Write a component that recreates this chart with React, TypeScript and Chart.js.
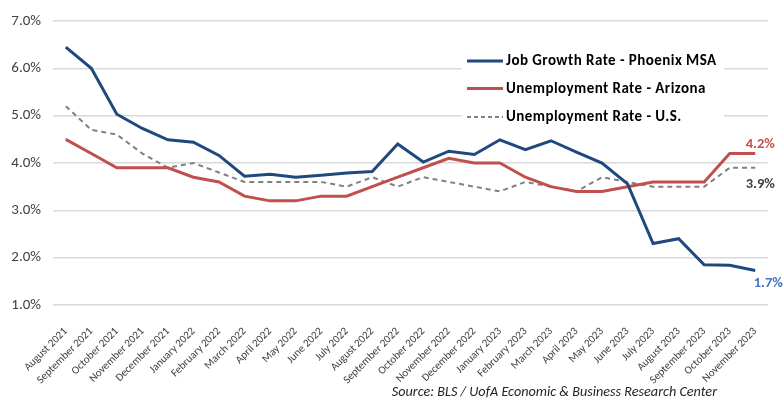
import { useEffect, useRef } from 'react';
import { Chart, registerables } from 'chart.js';

Chart.register(...registerables);

const categories = [
  'August 2021', 'September 2021', 'October 2021', 'November 2021', 'December 2021',
  'January 2022', 'February 2022', 'March 2022', 'April 2022', 'May 2022', 'June 2022',
  'July 2022', 'August 2022', 'September 2022', 'October 2022', 'November 2022',
  'December 2022', 'January 2023', 'February 2023', 'March 2023', 'April 2023', 'May 2023',
  'June 2023', 'July 2023', 'August 2023', 'September 2023', 'October 2023', 'November 2023',
];

const jobGrowthPhoenix = [
  6.45, 6.0, 5.03, 4.73, 4.49, 4.44, 4.16, 3.72, 3.76, 3.7,
  3.74, 3.79, 3.82, 4.4, 4.02, 4.25, 4.18, 4.49, 4.28, 4.47,
  4.23, 4.0, 3.56, 2.3, 2.4, 1.85, 1.84, 1.73,
];

const unemploymentArizona = [
  4.5, 4.2, 3.9, 3.9, 3.9, 3.7, 3.6, 3.3, 3.2, 3.2,
  3.3, 3.3, 3.5, 3.7, 3.9, 4.1, 4.0, 4.0, 3.7, 3.5,
  3.4, 3.4, 3.5, 3.6, 3.6, 3.6, 4.2, 4.2,
];

const unemploymentUS = [
  5.2, 4.7, 4.6, 4.2, 3.9, 4.0, 3.8, 3.6, 3.6, 3.6,
  3.6, 3.5, 3.7, 3.5, 3.7, 3.6, 3.5, 3.4, 3.6, 3.5,
  3.4, 3.7, 3.6, 3.5, 3.5, 3.5, 3.9, 3.9,
];

const seriesLabels = [
  'Job Growth Rate - Phoenix MSA',
  'Unemployment Rate - Arizona',
  'Unemployment Rate - U.S.',
];

const sourceText = 'Source: BLS / UofA Economic & Business Research Center';

const FONT = 'Calibri, Carlito, Lato, "Noto Sans", sans-serif';
const BLUE = '#1F497D';
const RED = '#C0504D';
const GRAY = '#808080';

const overlayPlugin = {
  id: 'overlay',
  afterDatasetsDraw(chart: any) {
    const ctx = chart.ctx as any;
    ctx.save();
    // Legend box
    const lx = 465;
    const ly = [61, 88.5, 117];
    ctx.fillStyle = '#ffffff';
    ctx.fillRect(lx - 3, 48, 262, 82);
    const styles = [
      { color: BLUE, width: 3, dash: [] as number[] },
      { color: RED, width: 3, dash: [] as number[] },
      { color: GRAY, width: 2, dash: [4, 3] },
    ];
    ctx.font = `bold 15px ${FONT}`;
    ctx.letterSpacing = '0.45px';
    ctx.textBaseline = 'middle';
    ctx.textAlign = 'left';
    styles.forEach((s, i) => {
      ctx.beginPath();
      ctx.setLineDash(s.dash);
      ctx.strokeStyle = s.color;
      ctx.lineWidth = s.width;
      ctx.moveTo(lx + 2, ly[i]);
      ctx.lineTo(lx + 38, ly[i]);
      ctx.stroke();
      ctx.setLineDash([]);
      ctx.fillStyle = '#000000';
      ctx.fillText(chart.data.datasets[i].label, lx + 41, ly[i] + 0.5);
    });
    ctx.letterSpacing = '0px';

    // End labels
    const endCfg = [
      { ds: 0, color: '#4472C4', dx: 13, dy: 13 },
      { ds: 1, color: RED, dx: 5, dy: -9 },
      { ds: 2, color: '#404040', dx: 5, dy: 17 },
    ];
    ctx.font = `bold 14.5px ${FONT}`;
    ctx.textAlign = 'center';
    endCfg.forEach((c) => {
      const meta = chart.getDatasetMeta(c.ds);
      const pts = meta.data;
      const p = pts[pts.length - 1];
      const vals = chart.data.datasets[c.ds].data as number[];
      const v = vals[vals.length - 1];
      ctx.fillStyle = c.color;
      ctx.fillText(v.toFixed(1) + '%', p.x + c.dx, p.y + c.dy);
    });

    // Source
    ctx.font = `italic 14.2px ${FONT}`;
    ctx.fillStyle = '#262626';
    ctx.textAlign = 'right';
    ctx.fillText(sourceText, 717, 392);
    ctx.restore();
  },
};

export default function App() {
  const ref = useRef<HTMLCanvasElement>(null);
  useEffect(() => {
    const chart = new Chart(ref.current!, {
      type: 'line',
      data: {
        labels: categories,
        datasets: [
          {
            label: seriesLabels[0],
            data: jobGrowthPhoenix,
            borderColor: BLUE,
            backgroundColor: BLUE,
            borderWidth: 3,
            pointRadius: 0,
            tension: 0,
          },
          {
            label: seriesLabels[1],
            data: unemploymentArizona,
            borderColor: RED,
            backgroundColor: RED,
            borderWidth: 3,
            pointRadius: 0,
            tension: 0,
          },
          {
            label: seriesLabels[2],
            data: unemploymentUS,
            borderColor: GRAY,
            backgroundColor: GRAY,
            borderWidth: 2,
            borderDash: [5, 4],
            pointRadius: 0,
            tension: 0,
          },
        ],
      },
      options: {
        animation: false,
        responsive: false,
        maintainAspectRatio: false,
        layout: { padding: { top: 16, right: 15, left: 0, bottom: 0 } },
        plugins: {
          legend: { display: false },
          tooltip: { enabled: false },
        },
        scales: {
          x: {
            offset: true,
            grid: { display: false },
            border: { display: false },
            ticks: {
              autoSkip: false,
              maxRotation: 45,
              minRotation: 45,
              padding: 12,
              color: '#404040',
              font: { family: FONT, size: 11 },
            },
            afterFit: (s: any) => {
              s.height = 97;
            },
          },
          y: {
            min: 1,
            max: 7,
            ticks: {
              stepSize: 1,
              padding: 12,
              color: '#404040',
              font: { family: FONT, size: 15 },
              callback: (v: any) => Number(v).toFixed(1) + '%',
            },
            grid: { color: '#D9D9D9', lineWidth: 1.5, drawTicks: false },
            border: { display: false },
            afterFit: (s: any) => {
              s.width = 53;
            },
          },
        },
      },
      plugins: [overlayPlugin],
    });
    return () => chart.destroy();
  }, []);
  return (
    <div style={{ position: 'fixed', left: 0, top: 0, width: 783, height: 402, background: '#ffffff' }}>
      <canvas ref={ref} width={783} height={402} style={{ width: 783, height: 402, display: 'block' }} />
    </div>
  );
}
